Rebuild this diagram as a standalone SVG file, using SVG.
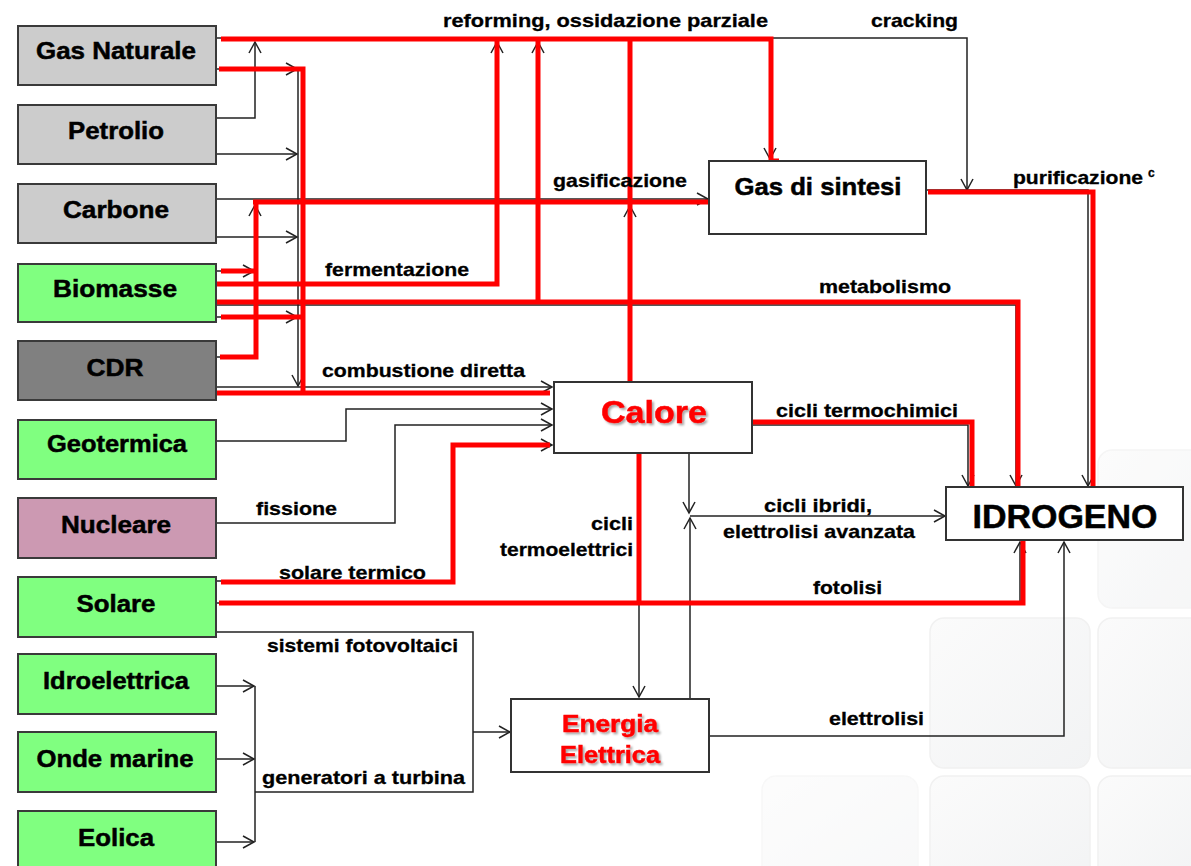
<svg xmlns="http://www.w3.org/2000/svg" width="1191" height="866" viewBox="0 0 1191 866">
<style>
.src{stroke:#3a3a3a;stroke-width:2}
.gray{fill:#cccccc}.green{fill:#80ff80}.dark{fill:#808080}.nuc{fill:#cc99b2}
.tgt{fill:#ffffff;stroke:#333333;stroke-width:2}
.bt{font-family:"Liberation Sans",Arial,sans-serif;font-weight:700;font-size:24px;fill:#000;stroke:#000;stroke-width:0.5;text-anchor:middle}
.lb{font-family:"Liberation Sans",Arial,sans-serif;font-weight:700;font-size:18.5px;fill:#000;stroke:#000;stroke-width:0.3}
.k{fill:none;stroke:#222;stroke-width:1.5}
.r{fill:none;stroke:#ff0000;stroke-width:5}
.tile{fill:url(#tg);stroke:#f1f1f1;stroke-width:1.5}
</style>
<defs>
<marker id="a" markerUnits="userSpaceOnUse" markerWidth="16" markerHeight="16" refX="12" refY="7" orient="auto">
<path d="M1,1 L12,7 L1,13" fill="none" stroke="#222" stroke-width="1.5"/>
</marker>
<linearGradient id="tg" x1="0" y1="0" x2="1" y2="1">
<stop offset="0" stop-color="#fbfbfb"/>
<stop offset="1" stop-color="#f2f3f4"/>
</linearGradient>
<filter id="sh" x="-10%" y="-20%" width="130%" height="150%">
<feDropShadow dx="2" dy="2" stdDeviation="1.2" flood-color="#000" flood-opacity="0.35"/>
</filter>
</defs>
<rect width="1191" height="866" fill="#ffffff"/>
<g id="background">
<rect class="tile" x="1098" y="450" width="110" height="158" rx="14" opacity="0.7"/>
<rect class="tile" x="930" y="618" width="160" height="150" rx="14"/>
<rect class="tile" x="1098" y="618" width="110" height="150" rx="14"/>
<rect class="tile" x="762" y="776" width="156" height="110" rx="14" opacity="0.5"/>
<rect class="tile" x="930" y="776" width="160" height="110" rx="14"/>
<rect class="tile" x="1098" y="776" width="110" height="110" rx="14"/>
</g>
<g id="connectors">
<g id="thin">
<path class="k" d="M216,38 H770 V159" marker-end="url(#a)"/>
<path class="k" d="M770,38 H967 V190" marker-end="url(#a)"/>
<path class="k" d="M216,118 H255 V42" marker-end="url(#a)"/>
<path class="k" d="M216,69 H297" marker-end="url(#a)"/>
<path class="k" d="M298,69 V386" marker-end="url(#a)"/>
<path class="k" d="M216,154 H297" marker-end="url(#a)"/>
<path class="k" d="M216,199 H708" marker-end="url(#a)"/>
<path class="k" d="M216,237 H297" marker-end="url(#a)"/>
<path class="k" d="M216,271 H254" marker-end="url(#a)"/>
<path class="k" d="M216,357 H255 V205" marker-end="url(#a)"/>
<path class="k" d="M497,284 V42" marker-end="url(#a)"/>
<path class="k" d="M538,302 V42" marker-end="url(#a)"/>
<path class="k" d="M216,305 H1016 V486" marker-end="url(#a)"/>
<path class="k" d="M216,317 H297" marker-end="url(#a)"/>
<path class="k" d="M630,382 V206" marker-end="url(#a)"/>
<path class="k" d="M216,387 H552" marker-end="url(#a)"/>
<path class="k" d="M216,441 H346 V409 H552" marker-end="url(#a)"/>
<path class="k" d="M216,523 H395 V425 H552" marker-end="url(#a)"/>
<path class="k" d="M216,581 H453 V445 H552" marker-end="url(#a)"/>
<path class="k" d="M216,603 H1020 V542" marker-end="url(#a)"/>
<path class="k" d="M216,632 H473 V792 H255"/>
<path class="k" d="M216,686 H254" marker-end="url(#a)"/>
<path class="k" d="M216,759 H254" marker-end="url(#a)"/>
<path class="k" d="M216,842 H254" marker-end="url(#a)"/>
<path class="k" d="M255,686 V842"/>
<path class="k" d="M473,732 H510" marker-end="url(#a)"/>
<path class="k" d="M752,425 H968 V486" marker-end="url(#a)"/>
<path class="k" d="M689,453 V513" marker-end="url(#a)"/>
<path class="k" d="M690,699 V518" marker-end="url(#a)"/>
<path class="k" d="M690,516 H945" marker-end="url(#a)"/>
<path class="k" d="M639,453 V697" marker-end="url(#a)"/>
<path class="k" d="M709,736 H1064 V542" marker-end="url(#a)"/>
<path class="k" d="M926,190 H1088 V486" marker-end="url(#a)"/>
</g>
<g id="red">
<path class="r" d="M221,39 H771 V161 H779"/>
<path class="r" d="M219,69 H303 V393"/>
<path class="r" d="M253,202 H711"/>
<path class="r" d="M220,357 H256 V200"/>
<path class="r" d="M221,271 H256"/>
<path class="r" d="M209,284 H497 V39"/>
<path class="r" d="M216,302 H1018 V487"/>
<path class="r" d="M538,302 V39"/>
<path class="r" d="M630,39 V382"/>
<path class="r" d="M221,317 H303"/>
<path class="r" d="M211,393 H550"/>
<path class="r" d="M221,582 H453 V445 H550"/>
<path class="r" d="M219,603 H1023 V535"/>
<path class="r" d="M752,422 H972 V488"/>
<path class="r" d="M639,453 V603"/>
<path class="r" d="M928,192 H1093 V488"/>
</g>
</g>
<g id="labels">
<text class="lb" x="443" y="27" textLength="325" lengthAdjust="spacingAndGlyphs">reforming, ossidazione parziale</text>
<text class="lb" x="871" y="27" textLength="87" lengthAdjust="spacingAndGlyphs">cracking</text>
<text class="lb" x="553" y="187" textLength="134" lengthAdjust="spacingAndGlyphs">gasificazione</text>
<text class="lb" x="1013" y="184" textLength="130" lengthAdjust="spacingAndGlyphs">purificazione</text>
<text class="lb" x="1148" y="177" style="font-size:12px">c</text>
<text class="lb" x="325" y="276" textLength="144" lengthAdjust="spacingAndGlyphs">fermentazione</text>
<text class="lb" x="819" y="293" textLength="132" lengthAdjust="spacingAndGlyphs">metabolismo</text>
<text class="lb" x="322" y="377" textLength="203" lengthAdjust="spacingAndGlyphs">combustione diretta</text>
<text class="lb" x="776" y="417" textLength="182" lengthAdjust="spacingAndGlyphs">cicli termochimici</text>
<text class="lb" x="764" y="512" textLength="108" lengthAdjust="spacingAndGlyphs">cicli ibridi,</text>
<text class="lb" x="723" y="538" textLength="192" lengthAdjust="spacingAndGlyphs">elettrolisi avanzata</text>
<text class="lb" x="591" y="530" textLength="42" lengthAdjust="spacingAndGlyphs">cicli</text>
<text class="lb" x="500" y="556" textLength="133" lengthAdjust="spacingAndGlyphs">termoelettrici</text>
<text class="lb" x="813" y="594" textLength="69" lengthAdjust="spacingAndGlyphs">fotolisi</text>
<text class="lb" x="829" y="725" textLength="95" lengthAdjust="spacingAndGlyphs">elettrolisi</text>
<text class="lb" x="256" y="515" textLength="81" lengthAdjust="spacingAndGlyphs">fissione</text>
<text class="lb" x="279" y="579" textLength="147" lengthAdjust="spacingAndGlyphs">solare termico</text>
<text class="lb" x="267" y="652" textLength="191" lengthAdjust="spacingAndGlyphs">sistemi fotovoltaici</text>
<text class="lb" x="262" y="784" textLength="203" lengthAdjust="spacingAndGlyphs">generatori a turbina</text>
</g>
<g id="gas-naturale"><rect class="src gray" x="18" y="26" width="198" height="59"/><text class="bt" x="116" y="59" textLength="160" lengthAdjust="spacingAndGlyphs">Gas Naturale</text></g>
<g id="petrolio"><rect class="src gray" x="18" y="105" width="198" height="59"/><text class="bt" x="116" y="139" textLength="96" lengthAdjust="spacingAndGlyphs">Petrolio</text></g>
<g id="carbone"><rect class="src gray" x="18" y="184" width="198" height="59"/><text class="bt" x="116" y="218" textLength="106" lengthAdjust="spacingAndGlyphs">Carbone</text></g>
<g id="biomasse"><rect class="src green" x="18" y="264" width="198" height="58"/><text class="bt" x="115" y="297" textLength="124" lengthAdjust="spacingAndGlyphs">Biomasse</text></g>
<g id="cdr"><rect class="src dark" x="18" y="341" width="198" height="59"/><text class="bt" x="115" y="376" textLength="57" lengthAdjust="spacingAndGlyphs">CDR</text></g>
<g id="geotermica"><rect class="src green" x="18" y="420" width="198" height="59"/><text class="bt" x="117" y="452" textLength="140" lengthAdjust="spacingAndGlyphs">Geotermica</text></g>
<g id="nucleare"><rect class="src nuc" x="18" y="498" width="198" height="60"/><text class="bt" x="116" y="533" textLength="110" lengthAdjust="spacingAndGlyphs">Nucleare</text></g>
<g id="solare"><rect class="src green" x="18" y="577" width="198" height="60"/><text class="bt" x="116" y="612" textLength="79" lengthAdjust="spacingAndGlyphs">Solare</text></g>
<g id="idroelettrica"><rect class="src green" x="18" y="654" width="198" height="60"/><text class="bt" x="116" y="689" textLength="146" lengthAdjust="spacingAndGlyphs">Idroelettrica</text></g>
<g id="onde-marine"><rect class="src green" x="18" y="732" width="198" height="60"/><text class="bt" x="115" y="767" textLength="157" lengthAdjust="spacingAndGlyphs">Onde marine</text></g>
<g id="eolica"><rect class="src green" x="18" y="811" width="198" height="62"/><text class="bt" x="116" y="846" textLength="76" lengthAdjust="spacingAndGlyphs">Eolica</text></g>
<g id="gas-di-sintesi"><rect class="tgt" x="709" y="161" width="217" height="73"/><text class="bt" x="818" y="195" textLength="167" lengthAdjust="spacingAndGlyphs">Gas di sintesi</text></g>
<g id="calore"><rect class="tgt" x="554" y="382" width="198" height="71"/><text class="bt" x="654" y="423" style="font-size:32px;fill:#ff0000;stroke:#ff0000" filter="url(#sh)" textLength="106" lengthAdjust="spacingAndGlyphs">Calore</text></g>
<g id="idrogeno"><rect class="tgt" x="946" y="487" width="237" height="53"/><text class="bt" x="1065" y="528" style="font-size:33px" textLength="185" lengthAdjust="spacingAndGlyphs">IDROGENO</text></g>
<g id="energia-elettrica"><rect class="tgt" x="511" y="699" width="198" height="73"/><text class="bt" x="610" y="732" style="fill:#ff0000;stroke:#ff0000" filter="url(#sh)" textLength="96" lengthAdjust="spacingAndGlyphs">Energia</text><text class="bt" x="610" y="763" style="fill:#ff0000;stroke:#ff0000" filter="url(#sh)" textLength="100" lengthAdjust="spacingAndGlyphs">Elettrica</text></g>
</svg>
